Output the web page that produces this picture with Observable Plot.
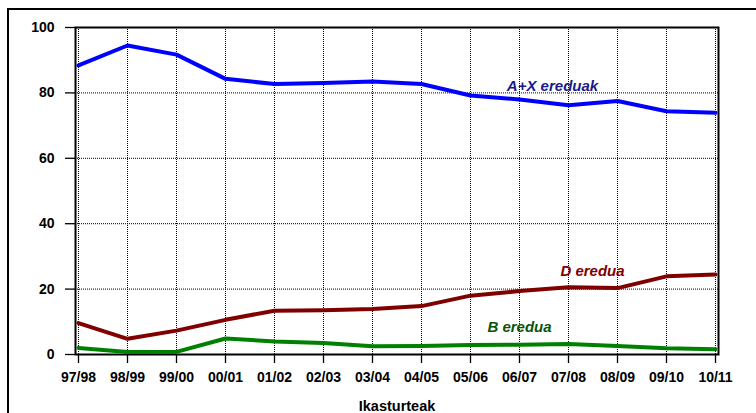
<!DOCTYPE html>
<html>
<head>
<meta charset="utf-8">
<script src="https://cdn.jsdelivr.net/npm/d3@7"></script>
<script src="https://cdn.jsdelivr.net/npm/@observablehq/plot@0.6"></script>
<style>
  html, body { margin: 0; padding: 0; background: #fff; overflow: hidden; }
  #wrap { position: relative; width: 756px; height: 413px; }
  #border { position: absolute; left: 7px; top: 8px; width: 800px; height: 500px; border: 2px solid #000; pointer-events: none; }
</style>
</head>
<body>
<div id="wrap"><div id="border"></div></div>
<script>
const years = ["97/98","98/99","99/00","00/01","01/02","02/03","03/04","04/05","05/06","06/07","07/08","08/09","09/10","10/11"];
const axValues = [88.4, 94.5, 91.7, 84.3, 82.7, 83.0, 83.5, 82.7, 79.2, 78.0, 76.2, 77.5, 74.4, 73.9];
const dValues  = [9.6, 4.8, 7.3, 10.6, 13.4, 13.5, 13.9, 14.8, 18.0, 19.4, 20.6, 20.3, 23.9, 24.5];
const bValues  = [2.0, 0.8, 0.8, 4.9, 4.0, 3.5, 2.5, 2.6, 2.9, 3.0, 3.2, 2.6, 1.9, 1.6];
const seriesNames = ["A+X ereduak", "D eredua", "B eredua"];
const lineColors = ["#0000ff", "#800000", "#008000"];
const labelColors = ["#1a1a8a", "#800000", "#0b520b"];
const labelX = ["06/07", "08/09", "06/07"];
const labelY = [82.1, 25.5, 8.2];
const labelDx = [33, -25, 0];
const yTicks = [0, 20, 40, 60, 80, 100];
const gridTicks = [20, 40, 60, 80];
const xTitle = "Ikasturteak";

const allValues = [axValues, dValues, bValues];
const rows = [];
allValues.forEach((vals, s) => vals.forEach((v, i) => rows.push({year: years[i], value: v, series: seriesNames[s]})));
const labels = seriesNames.map((n, i) => ({name: n, x: labelX[i], y: labelY[i], dx: labelDx[i], color: labelColors[i]}));

const chart = Plot.plot({
  width: 756,
  height: 413,
  marginLeft: 75,
  marginRight: 38,
  marginTop: 27,
  marginBottom: 59,
  style: {fontFamily: "'Liberation Sans', Arial, sans-serif", background: "transparent", overflow: "visible"},
  x: {type: "point", domain: years, padding: 0},
  y: {domain: [0, 100]},
  color: {domain: seriesNames, range: lineColors},
  marks: [
    Plot.gridY(gridTicks, {stroke: "#000", strokeOpacity: 1, strokeDasharray: "1,1", strokeWidth: 1}),
    Plot.gridX(years, {stroke: "#000", strokeOpacity: 1, strokeDasharray: "1,1", strokeWidth: 1}),
    Plot.axisY(yTicks, {tickSize: 10, tickPadding: 11, fontSize: 14, fontWeight: "bold", label: null, strokeWidth: 1.3}),
    Plot.axisX(years, {tickSize: 9, tickPadding: 9, fontSize: 14, fontWeight: "bold", label: null, strokeWidth: 1.3}),
    Plot.frame({stroke: "#000", strokeWidth: 2}),
    Plot.line(rows, {x: "year", y: "value", z: "series", stroke: "series", strokeWidth: 4, strokeLinejoin: "round"}),
    ...labels.map(l => Plot.text([l], {x: "x", y: "y", text: "name", dx: l.dx, fill: l.color, fontSize: 15, fontWeight: "bold", fontStyle: "italic"})),
    Plot.text([xTitle], {frameAnchor: "bottom", text: d => d, dy: 46, lineAnchor: "top", fontSize: 14.5, fontWeight: "bold", fill: "#000"})
  ]
});
chart.style.position = "absolute";
chart.style.left = "0px";
chart.style.top = "0px";
document.getElementById("wrap").appendChild(chart);
</script>
</body>
</html>
